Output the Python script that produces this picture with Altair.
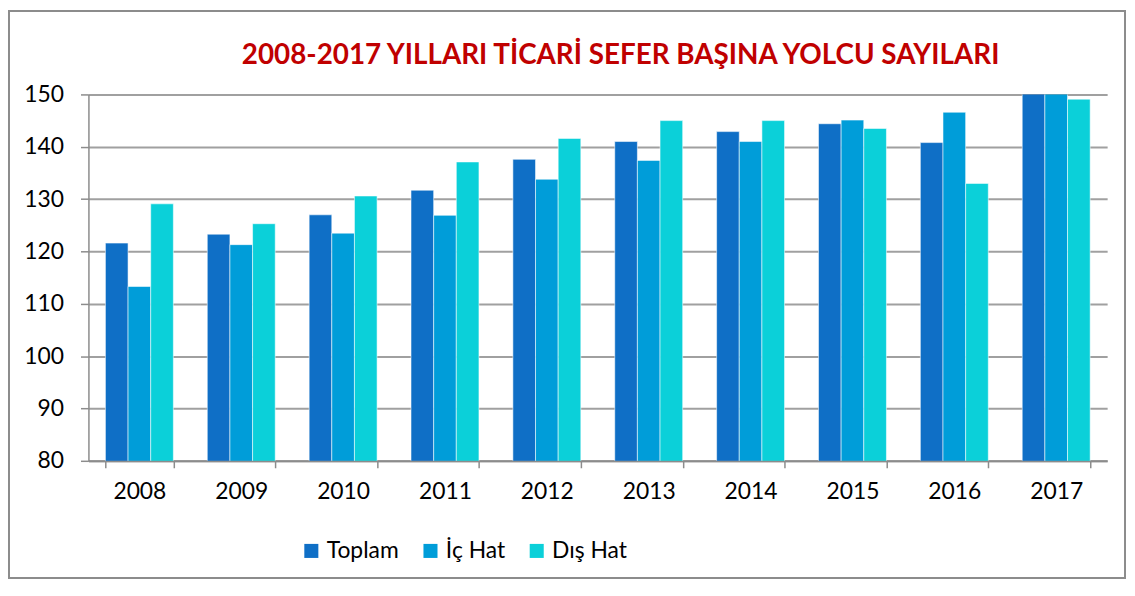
import altair as alt
import pandas as pd

years = ["2008", "2009", "2010", "2011", "2012", "2013", "2014", "2015", "2016", "2017"]
series = ["Toplam", "İç Hat", "Dış Hat"]
toplam = [121.6, 123.3, 127.0, 131.7, 137.6, 141.0, 142.9, 144.4, 140.8, 151.5]
ic_hat = [113.3, 121.3, 123.5, 126.9, 133.8, 137.4, 141.0, 145.1, 146.6, 151.0]
dis_hat = [129.1, 125.3, 130.6, 137.1, 141.6, 145.0, 145.0, 143.5, 133.0, 149.1]
y_ticks = [80, 90, 100, 110, 120, 130, 140, 150]
colors = ["#0F6FC6", "#009DD9", "#0BD0D9"]
title_text = "2008-2017 YILLARI TİCARİ SEFER BAŞINA YOLCU SAYILARI"

rows = []
for i, yr in enumerate(years):
    for s, vals in zip(series, [toplam, ic_hat, dis_hat]):
        rows.append({"Yıl": yr, "Seri": s, "Değer": vals[i]})
df = pd.DataFrame(rows)

FONT = "Lato"
GRID = "#a0a0a0"
AXIS = "#8c8c8c"

bars = alt.Chart(df).mark_bar(
    clip=True, stroke="white", strokeWidth=1, strokeOpacity=0.55
).encode(
    x=alt.X(
        "Yıl:N", sort=years, title=None,
        scale=alt.Scale(paddingInner=0.333, paddingOuter=0.1667),
        axis=alt.Axis(
            labelAngle=0, tickBand="extent", grid=False,
            domainColor=AXIS, domainWidth=2, tickColor=AXIS, tickWidth=1.5,
            tickSize=7, labelFontSize=23, labelFont=FONT, labelColor="black",
            labelPadding=13,
        ),
    ),
    xOffset=alt.XOffset("Seri:N", sort=series, scale=alt.Scale(paddingInner=0, paddingOuter=0)),
    y=alt.Y(
        "Değer:Q", title=None,
        scale=alt.Scale(domain=[80, 150], nice=False, zero=False),
        axis=alt.Axis(
            values=y_ticks, grid=True, gridColor=GRID, gridWidth=2,
            domainColor=AXIS, domainWidth=1.5, tickColor=AXIS, tickWidth=1.5,
            tickSize=8, labelFontSize=23, labelFont=FONT, labelColor="black",
            labelPadding=17,
        ),
    ),
    color=alt.Color(
        "Seri:N", sort=series,
        scale=alt.Scale(domain=series, range=colors),
        legend=alt.Legend(
            title=None, orient="none", legendX=213, legendY=448,
            direction="horizontal", symbolType="square", symbolSize=200,
            symbolStrokeWidth=0, labelFontSize=23, labelFont=FONT,
            labelColor="black", columnPadding=20, labelOffset=4,
        ),
    ),
)

one_row = alt.Data(values=[{"t": title_text}])

border = alt.Chart(one_row).mark_rect(
    fill="transparent", stroke=AXIS, strokeWidth=2, clip=False
).encode(
    x=alt.value(-80), x2=alt.value(1044), y=alt.value(-84), y2=alt.value(487)
)

title = alt.Chart(one_row).mark_text(
    font=FONT, fontSize=28, fontWeight="bold", color="#C00000",
    align="center", baseline="alphabetic", clip=False
).encode(
    text="t:N", x=alt.value(536), y=alt.value(-31)
)

chart = alt.layer(border, title, bars).properties(
    width=1026,
    height=369,
    padding={"left": 81, "top": 85, "right": 20, "bottom": 120},
    autosize=alt.AutoSizeParams(type="none"),
).configure_view(strokeWidth=0)

chart.save("out.html", embed_options={"renderer": "svg", "actions": False})
